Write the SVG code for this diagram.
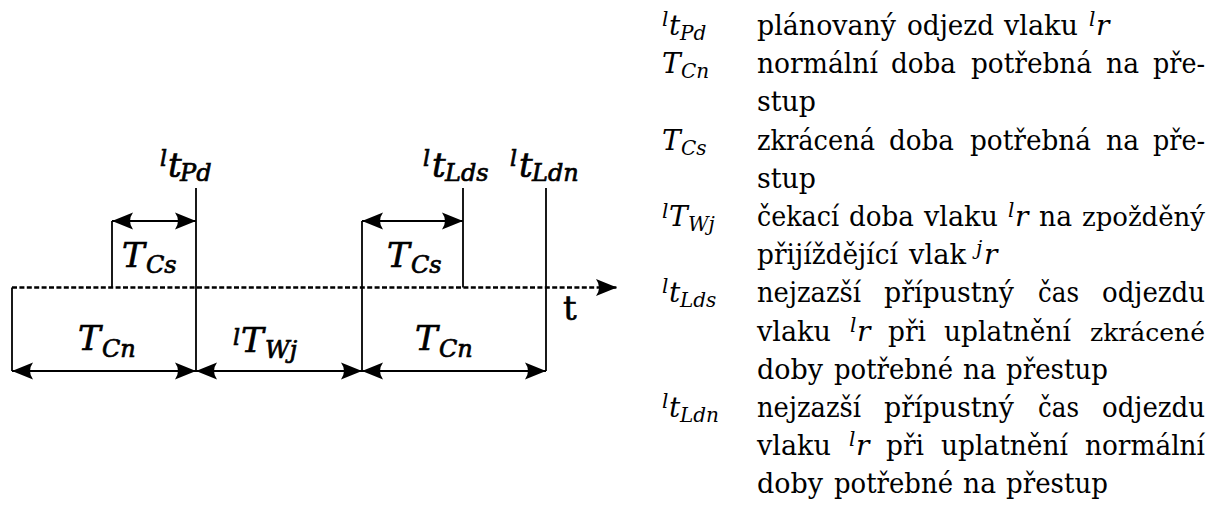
<svg xmlns="http://www.w3.org/2000/svg" width="1211" height="506" viewBox="0 0 1211 506">
<style>
.ln{stroke:#000;stroke-width:1.8;fill:none}
.dim{stroke:#000;stroke-width:1.8;fill:none;marker-start:url(#ah);marker-end:url(#ah)}
.ax{stroke:#000;stroke-width:2.4;fill:none;stroke-dasharray:5 2.4}
.m{font-family:'DejaVu Serif','Liberation Serif',serif;font-style:italic;fill:#000;stroke:#000;stroke-width:0.7}
.mb{font-size:34px}
.ms{font-size:24px}
.mu{font-size:22px}
.tx{font-family:'DejaVu Serif','Liberation Serif',serif;font-size:27px;fill:#000}
.sm{font-size:25px}
.lm{font-family:'DejaVu Serif','Liberation Serif',serif;font-style:italic;fill:#000}
.lb{font-size:28px}
.ls{font-size:20px}
</style>
<defs>
<marker id="ah" viewBox="-22 -10 24 20" refX="0" refY="0" markerWidth="24" markerHeight="20" markerUnits="userSpaceOnUse" orient="auto-start-reverse">
<path d="M0,0 L-21,-8.5 Q-15,0 -21,8.5 Z" fill="#000"/>
</marker>
<marker id="ax" viewBox="-22 -10 24 20" refX="0" refY="0" markerWidth="24" markerHeight="20" markerUnits="userSpaceOnUse" orient="auto">
<path d="M0,0 L-21,-8.5 Q-15,0 -21,8.5 Z" fill="#000"/>
</marker>
</defs>

<g id="connectors">
<line class="ax" x1="12" y1="287.5" x2="617" y2="287.5" marker-end="url(#ax)"/>
<line class="ln" x1="12" y1="287.5" x2="12" y2="371"/>
<line class="ln" x1="196" y1="188" x2="196" y2="371"/>
<line class="ln" x1="112" y1="221" x2="112" y2="287.5"/>
<line class="ln" x1="362" y1="221" x2="362" y2="371"/>
<line class="ln" x1="463" y1="188" x2="463" y2="287.5"/>
<line class="ln" x1="546" y1="188" x2="546" y2="371"/>
<line class="dim" x1="112" y1="221" x2="196" y2="221"/>
<line class="dim" x1="362" y1="221" x2="463" y2="221"/>
<line class="dim" x1="12" y1="371" x2="196" y2="371"/>
<line class="dim" x1="196" y1="371" x2="362" y2="371"/>
<line class="dim" x1="362" y1="371" x2="546" y2="371"/>
</g>

<g id="label-tPd"><text class="m"><tspan class="mu" x="160" y="166">l</tspan><tspan class="mb" x="168" y="177">t</tspan><tspan class="ms" x="180" y="181">Pd</tspan></text></g>
<g id="label-tLds"><text class="m"><tspan class="mu" x="423" y="166">l</tspan><tspan class="mb" x="432" y="177">t</tspan><tspan class="ms" x="445" y="181">Lds</tspan></text></g>
<g id="label-tLdn"><text class="m"><tspan class="mu" x="510" y="166">l</tspan><tspan class="mb" x="519" y="177">t</tspan><tspan class="ms" x="532" y="181">Ldn</tspan></text></g>
<g id="label-TCs-1"><text class="m"><tspan class="mb" x="122" y="267">T</tspan><tspan class="ms" x="146" y="273">Cs</tspan></text></g>
<g id="label-TCs-2"><text class="m"><tspan class="mb" x="387" y="267">T</tspan><tspan class="ms" x="411" y="273">Cs</tspan></text></g>
<g id="label-TCn-1"><text class="m"><tspan class="mb" x="78" y="350">T</tspan><tspan class="ms" x="102" y="357">Cn</tspan></text></g>
<g id="label-TCn-2"><text class="m"><tspan class="mb" x="415" y="350">T</tspan><tspan class="ms" x="439" y="357">Cn</tspan></text></g>
<g id="label-TWj"><text class="m"><tspan class="mu" x="233" y="345">l</tspan><tspan class="mb" x="241" y="352">T</tspan><tspan class="ms" x="265" y="358">Wj</tspan></text></g>
<g id="label-t"><text x="563" y="320" font-family="'DejaVu Serif','Liberation Serif',serif" font-size="34" stroke="#000" stroke-width="0.6">t</text></g>

<g id="legend">
<g id="legend-symbols">
<text class="lm"><tspan class="ls" x="662" y="26">l</tspan><tspan class="lb" x="669" y="35">t</tspan><tspan class="ls" x="680" y="40">Pd</tspan></text>
<text class="lm"><tspan class="lb" x="662" y="73">T</tspan><tspan class="ls" x="681" y="78">Cn</tspan></text>
<text class="lm"><tspan class="lb" x="662" y="150">T</tspan><tspan class="ls" x="681" y="155">Cs</tspan></text>
<text class="lm"><tspan class="ls" x="662" y="218">l</tspan><tspan class="lb" x="669" y="226">T</tspan><tspan class="ls" x="688" y="231">Wj</tspan></text>
<text class="lm"><tspan class="ls" x="662" y="293">l</tspan><tspan class="lb" x="669" y="302">t</tspan><tspan class="ls" x="680" y="307">Lds</tspan></text>
<text class="lm"><tspan class="ls" x="662" y="408">l</tspan><tspan class="lb" x="669" y="417">t</tspan><tspan class="ls" x="680" y="422">Ldn</tspan></text>
</g>
<g id="legend-text">
<text class="tx" y="35"><tspan x="757" textLength="139" lengthAdjust="spacingAndGlyphs">plánovaný</tspan><tspan x="907" textLength="87" lengthAdjust="spacingAndGlyphs">odjezd</tspan><tspan x="1004" textLength="74" lengthAdjust="spacingAndGlyphs">vlaku</tspan></text>
<text class="lm"><tspan class="ls" x="1089" y="26">l</tspan><tspan class="lb" x="1096" y="35">r</tspan></text>

<text class="tx" y="73"><tspan x="757" textLength="121" lengthAdjust="spacingAndGlyphs">normální</tspan><tspan x="891" textLength="65" lengthAdjust="spacingAndGlyphs">doba</tspan><tspan x="971" textLength="121" lengthAdjust="spacingAndGlyphs">potřebná</tspan><tspan x="1106" textLength="33" lengthAdjust="spacingAndGlyphs">na</tspan><tspan x="1153" textLength="52" lengthAdjust="spacingAndGlyphs">pře-</tspan></text>
<text class="tx" y="111"><tspan x="757" textLength="59" lengthAdjust="spacingAndGlyphs">stup</tspan></text>
<text class="tx" y="150"><tspan x="757" textLength="118" lengthAdjust="spacingAndGlyphs">zkrácená</tspan><tspan x="889" textLength="65" lengthAdjust="spacingAndGlyphs">doba</tspan><tspan x="970" textLength="121" lengthAdjust="spacingAndGlyphs">potřebná</tspan><tspan x="1106" textLength="33" lengthAdjust="spacingAndGlyphs">na</tspan><tspan x="1153" textLength="52" lengthAdjust="spacingAndGlyphs">pře-</tspan></text>
<text class="tx" y="188"><tspan x="757" textLength="59" lengthAdjust="spacingAndGlyphs">stup</tspan></text>

<text class="tx" y="226"><tspan x="757" textLength="82" lengthAdjust="spacingAndGlyphs">čekací</tspan><tspan x="849" textLength="65" lengthAdjust="spacingAndGlyphs">doba</tspan><tspan x="924" textLength="74" lengthAdjust="spacingAndGlyphs">vlaku</tspan><tspan x="1039" textLength="33" lengthAdjust="spacingAndGlyphs">na</tspan><tspan x="1082" textLength="123" lengthAdjust="spacingAndGlyphs" style="font-size:26px">zpožděný</tspan></text>
<text class="lm"><tspan class="ls" x="1008" y="217">l</tspan><tspan class="lb" x="1015" y="226">r</tspan></text>
<text class="tx" y="264"><tspan x="757" textLength="141" lengthAdjust="spacingAndGlyphs">přijíždějící</tspan><tspan x="909" textLength="57" lengthAdjust="spacingAndGlyphs">vlak</tspan></text>
<text class="lm"><tspan class="ls" x="976" y="255">j</tspan><tspan class="lb" x="984" y="264">r</tspan></text>

<text class="tx" y="302"><tspan x="757" textLength="104" lengthAdjust="spacingAndGlyphs">nejzazší</tspan><tspan x="884" textLength="130" lengthAdjust="spacingAndGlyphs">přípustný</tspan><tspan x="1038" textLength="41" lengthAdjust="spacingAndGlyphs">čas</tspan><tspan x="1102" textLength="103" lengthAdjust="spacingAndGlyphs">odjezdu</tspan></text>
<text class="tx" y="341"><tspan x="757" textLength="74" lengthAdjust="spacingAndGlyphs">vlaku</tspan><tspan x="888" textLength="38" lengthAdjust="spacingAndGlyphs">při</tspan><tspan x="944" textLength="127" lengthAdjust="spacingAndGlyphs">uplatnění</tspan><tspan class="sm" x="1090" textLength="115" lengthAdjust="spacingAndGlyphs">zkrácené</tspan></text>
<text class="lm"><tspan class="ls" x="850" y="332">l</tspan><tspan class="lb" x="857" y="341">r</tspan></text>
<text class="tx" y="379"><tspan x="757" textLength="66" lengthAdjust="spacingAndGlyphs">doby</tspan><tspan x="834" textLength="119" lengthAdjust="spacingAndGlyphs">potřebné</tspan><tspan x="963" textLength="33" lengthAdjust="spacingAndGlyphs">na</tspan><tspan x="1006" textLength="102" lengthAdjust="spacingAndGlyphs">přestup</tspan></text>

<text class="tx" y="417"><tspan x="757" textLength="104" lengthAdjust="spacingAndGlyphs">nejzazší</tspan><tspan x="884" textLength="130" lengthAdjust="spacingAndGlyphs">přípustný</tspan><tspan x="1038" textLength="41" lengthAdjust="spacingAndGlyphs">čas</tspan><tspan x="1102" textLength="103" lengthAdjust="spacingAndGlyphs">odjezdu</tspan></text>
<text class="tx" y="455"><tspan x="757" textLength="74" lengthAdjust="spacingAndGlyphs">vlaku</tspan><tspan x="886" textLength="38" lengthAdjust="spacingAndGlyphs">při</tspan><tspan x="941" textLength="127" lengthAdjust="spacingAndGlyphs">uplatnění</tspan><tspan x="1085" textLength="120" lengthAdjust="spacingAndGlyphs">normální</tspan></text>
<text class="lm"><tspan class="ls" x="849" y="446">l</tspan><tspan class="lb" x="856" y="455">r</tspan></text>
<text class="tx" y="493"><tspan x="757" textLength="66" lengthAdjust="spacingAndGlyphs">doby</tspan><tspan x="834" textLength="119" lengthAdjust="spacingAndGlyphs">potřebné</tspan><tspan x="963" textLength="33" lengthAdjust="spacingAndGlyphs">na</tspan><tspan x="1006" textLength="102" lengthAdjust="spacingAndGlyphs">přestup</tspan></text>
</g>
</g>
</svg>
